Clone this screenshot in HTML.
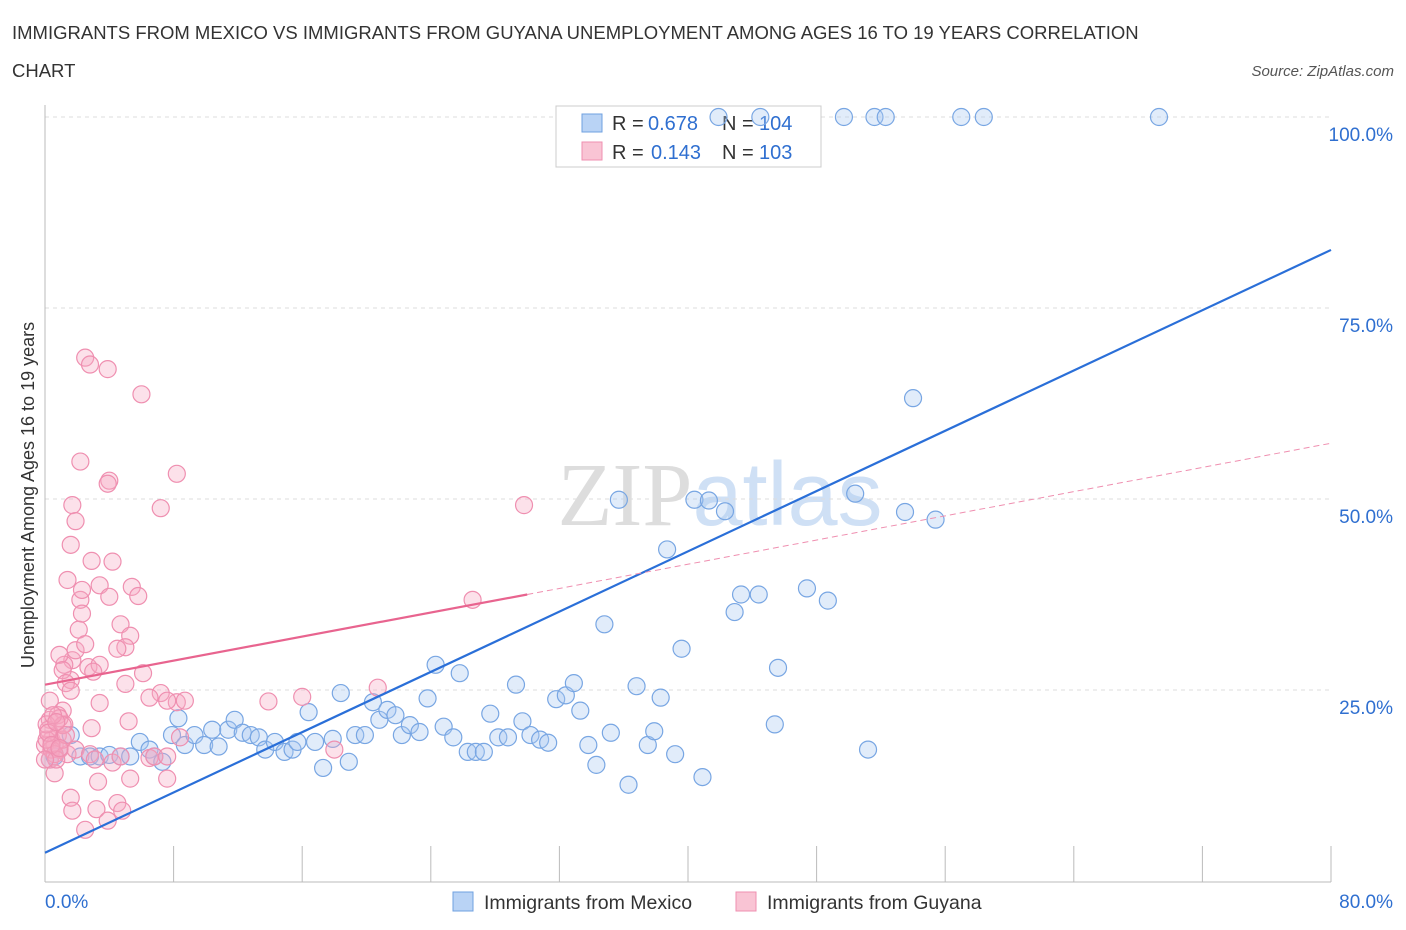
<!DOCTYPE html>
<html><head><meta charset="utf-8"><style>
body{margin:0;background:#fff;font-family:"Liberation Sans",sans-serif;}
svg{display:block}
</style></head><body>
<svg id="c" width="1406" height="930">
<text x="12" y="39" font-size="18.5" fill="#333">IMMIGRANTS FROM MEXICO VS IMMIGRANTS FROM GUYANA UNEMPLOYMENT AMONG AGES 16 TO 19 YEARS CORRELATION</text>
<text x="12" y="77" font-size="18.5" fill="#333">CHART</text>
<text x="1394" y="76" font-size="15" fill="#555" font-style="italic" text-anchor="end">Source: ZipAtlas.com</text>
<text x="720" y="525" font-size="90" fill="#ddd" text-anchor="middle" font-family="Liberation Serif,serif">ZIP<tspan fill="#cfe0f5" font-family="Liberation Sans,sans-serif">atlas</tspan></text>
<text transform="translate(34,495) rotate(-90)" font-size="18" fill="#333" text-anchor="middle">Unemployment Among Ages 16 to 19 years</text>
<g id="grid"></g>
<g>
<rect x="556" y="106" width="265" height="61" fill="#fff" stroke="#ccc"/>
<rect x="582" y="114" width="20" height="18" fill="#b9d3f5" stroke="#6fa0e0"/>
<rect x="582" y="142" width="20" height="18" fill="#f9c4d4" stroke="#ef8fb0"/>
<text x="612" y="130" font-size="20" fill="#333">R =</text>
<text x="648" y="130" font-size="20" fill="#2f6fd0">0.678</text>
<text x="722" y="130" font-size="20" fill="#333">N =</text>
<text x="759" y="130" font-size="20" fill="#2f6fd0">104</text>
<text x="612" y="159" font-size="20" fill="#333">R =</text>
<text x="651" y="159" font-size="20" fill="#2f6fd0">0.143</text>
<text x="722" y="159" font-size="20" fill="#333">N =</text>
<text x="759" y="159" font-size="20" fill="#2f6fd0">103</text>
</g>
<g id="marks"></g>
<g>
<rect x="453" y="892" width="20" height="19" fill="#b9d3f5" stroke="#6fa0e0"/>
<text x="484" y="909" font-size="19.5" fill="#333">Immigrants from Mexico</text>
<rect x="736" y="892" width="20" height="19" fill="#f9c4d4" stroke="#ef8fb0"/>
<text x="767" y="909" font-size="19.5" fill="#333">Immigrants from Guyana</text>
</g>
</svg>
<script>
const yTicks=[25,50,75,100];
const yTickLabels=["25.0%","50.0%","75.0%","100.0%"];
const xTicks=[0,8,16,24,32,40,48,56,64,72,80];
const blueX=[0.3,0.6,0.9,1.6,2.2,2.8,3.4,4.0,4.7,5.3,5.9,6.5,6.8,7.3,7.9,8.3,8.7,9.3,9.9,10.4,10.8,11.4,11.8,12.3,12.8,13.3,13.7,14.3,14.9,15.4,15.7,16.4,16.8,17.3,17.9,18.4,18.9,19.3,19.9,20.4,20.8,21.3,21.8,22.2,22.7,23.3,23.8,24.3,24.8,25.4,25.8,26.3,26.8,27.3,27.7,28.2,28.8,29.3,29.7,30.2,30.8,31.3,31.8,32.4,32.9,33.3,33.8,34.3,34.8,35.2,35.7,36.3,36.8,37.5,37.9,38.3,38.7,39.2,39.6,40.4,40.9,41.3,42.3,42.9,43.3,44.4,45.4,45.6,47.4,48.7,50.4,51.2,53.5,54.0,55.4,41.9,44.5,49.7,51.6,52.3,57.0,58.4,69.3];
const blueY=[15.9,16.3,17.2,19.1,16.3,16.3,16.3,16.5,16.3,16.3,18.2,17.2,16.3,15.6,19.1,21.3,17.8,19.1,17.8,19.8,17.6,19.8,21.1,19.4,19.1,18.8,17.2,18.2,16.9,17.2,18.2,22.1,18.2,14.8,18.6,24.6,15.6,19.1,19.1,23.4,21.1,22.4,21.7,19.1,20.4,19.5,23.9,28.3,20.2,18.8,27.2,16.9,16.9,16.9,21.9,18.8,18.8,25.7,20.9,19.1,18.5,18.1,23.8,24.3,25.9,22.3,17.8,15.2,33.6,19.4,49.9,12.6,25.5,17.8,19.6,24.0,43.4,16.6,30.4,49.9,13.6,49.8,48.4,35.2,37.5,37.5,20.5,27.9,38.3,36.7,50.7,17.2,48.3,63.2,47.3,100,100,100,100,100,100,100,100];
const pinkX=[0.3,0.4,0.6,0.8,0.9,1.1,1.2,1.4,0.3,0,0.2,1.6,1.7,1.9,2.1,2.2,2.3,1.4,1.6,1.7,1.9,2.2,2.5,2.8,3.9,6.0,4.0,3.9,8.2,7.2,29.8,26.6,2.9,4.2,3.4,4.0,5.4,5.8,2.3,2.5,4.7,5.3,5.0,4.5,2.7,3.4,3.0,6.1,5.0,1.2,0.9,1.1,1.3,1.6,7.2,8.2,7.6,8.7,6.5,13.9,16.0,20.7,3.4,2.9,5.2,1.1,1.9,2.8,3.1,4.2,4.7,6.5,6.8,7.6,1.6,1.7,2.5,3.3,3.2,3.9,4.5,4.8,5.3,7.6,18.0,8.4,0.6,0.3,0.8,0.9,1.1,1.3,0.4,0.6,0.7,0.1,0.1,0.2,0.4,0.5,0.7,0.9,0];
const pinkY=[21.1,18.5,17.8,19.1,17.2,22.3,20.5,16.6,15.9,17.8,19.8,26.3,28.9,30.2,32.9,36.8,38.1,39.4,44.0,49.2,47.1,54.9,68.5,67.6,67.0,63.7,52.4,52.0,53.3,48.8,49.2,36.8,41.9,41.8,38.7,37.2,38.5,37.3,35.0,31.0,33.6,32.1,30.6,30.4,28.0,28.3,27.4,27.2,25.8,28.3,29.6,27.6,25.9,24.9,24.6,23.4,23.6,23.6,24.0,23.5,24.1,25.3,23.3,20.0,20.9,18.5,17.2,16.6,15.9,15.5,16.3,16.1,16.3,16.3,10.9,9.2,6.7,13.0,9.4,7.9,10.2,9.2,13.4,13.4,17.2,18.8,14.1,23.6,21.7,21.3,20.4,19.1,17.2,16.6,15.9,18.5,20.5,19.4,17.8,21.7,20.8,17.4,15.9];
const X=v=>45+v*16.075, Y=v=>881-v*7.64;
const NS="http://www.w3.org/2000/svg";
function mk(t,a,p){const e=document.createElementNS(NS,t);for(const k in a)e.setAttribute(k,a[k]);p.appendChild(e);return e;}
const g=document.getElementById('grid'),m=document.getElementById('marks');
yTicks.forEach((v,i)=>{
const l=mk('line',{x1:45,x2:1331,y1:Y(v),y2:Y(v),stroke:'#ddd','stroke-dasharray':'4,4'},g);


const t=mk('text',{x:1393,y:Y(v)+24,'font-size':19,fill:'#2f6fd0','text-anchor':'end'},g);t.textContent=yTickLabels[i];


});
mk('line',{x1:45,x2:45,y1:105,y2:882,stroke:'#bbb'},g);
mk('line',{x1:45,x2:1331,y1:882,y2:882,stroke:'#bbb'},g);
xTicks.forEach(v=>{const l=mk('line',{x1:X(v),x2:X(v),y1:846,y2:882,stroke:'#bbb'},g);

});
let t1=mk('text',{x:45,y:908,'font-size':19,fill:'#2f6fd0'},g);t1.textContent='0.0%';


let t2=mk('text',{x:1393,y:908,'font-size':19,fill:'#2f6fd0','text-anchor':'end'},g);t2.textContent='80.0%';


blueX.forEach((x,i)=>{const c=mk('circle',{cx:X(x),cy:Y(blueY[i]),r:8.5,fill:'rgba(168,200,240,0.35)',stroke:'#78a6e3','stroke-width':1.2},m);

});
pinkX.forEach((x,i)=>{const c=mk('circle',{cx:X(x),cy:Y(pinkY[i]),r:8.5,fill:'rgba(245,170,195,0.35)',stroke:'#ef8fb0','stroke-width':1.2},m);

});
const bl=mk('line',{x1:X(0),y1:Y(3.7),x2:X(80),y2:Y(82.6),stroke:'#2a6fd8','stroke-width':2.2},m);


const pd=mk('line',{x1:X(30),y1:Y(37.5),x2:X(80),y2:Y(57.3),stroke:'#ef8fb0','stroke-width':1,'stroke-dasharray':'6,4'},m);


const pl=mk('line',{x1:X(0),y1:Y(25.7),x2:X(30),y2:Y(37.5),stroke:'#e8648f','stroke-width':2.2},m);


</script>
</body></html>
